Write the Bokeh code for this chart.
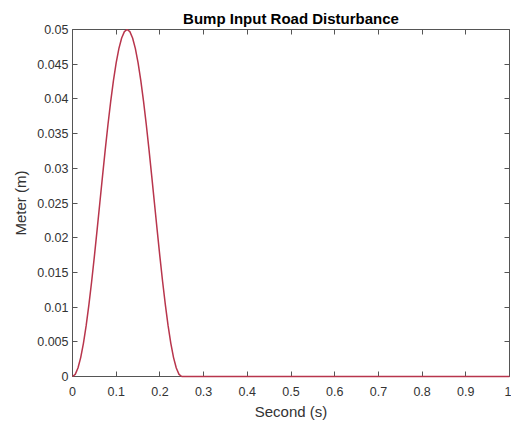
from bokeh.plotting import figure
from bokeh.models import LinearAxis, FixedTicker, ColumnDataSource, Range1d
from bokeh.embed import file_html
from bokeh.resources import INLINE

# ---- data ----
time_s = [0.0, 0.00625, 0.0125, 0.01875, 0.025, 0.03125, 0.0375, 0.04375, 0.05, 0.05625,
          0.0625, 0.06875, 0.075, 0.08125, 0.0875, 0.09375, 0.1, 0.10625, 0.1125, 0.11875,
          0.125, 0.13125, 0.1375, 0.14375, 0.15, 0.15625, 0.1625, 0.16875, 0.175, 0.18125,
          0.1875, 0.19375, 0.2, 0.20625, 0.2125, 0.21875, 0.225, 0.23125, 0.2375, 0.24375,
          0.25, 1.0]
disp_m = [0.0, 0.00031, 0.00122, 0.00272, 0.00478, 0.00732, 0.01031, 0.01365, 0.01727, 0.02109,
          0.025, 0.02891, 0.03273, 0.03635, 0.03969, 0.04268, 0.04523, 0.04728, 0.04878, 0.04969,
          0.05, 0.04969, 0.04878, 0.04728, 0.04523, 0.04268, 0.03969, 0.03635, 0.03273, 0.02891,
          0.025, 0.02109, 0.01727, 0.01365, 0.01031, 0.00732, 0.00478, 0.00272, 0.00122, 0.00031,
          0.0, 0.0]

x_ticks = [0.0, 0.1, 0.2, 0.3, 0.4, 0.5, 0.6, 0.7, 0.8, 0.9, 1.0]
x_tick_labels = ["0", "0.1", "0.2", "0.3", "0.4", "0.5", "0.6", "0.7", "0.8", "0.9", "1"]
y_ticks = [0.0, 0.005, 0.01, 0.015, 0.02, 0.025, 0.03, 0.035, 0.04, 0.045, 0.05]
y_tick_labels = ["0", "0.005", "0.01", "0.015", "0.02", "0.025", "0.03", "0.035", "0.04", "0.045", "0.05"]

title_text = "Bump Input Road Disturbance"
x_label = "Second (s)"
y_label = "Meter (m)"

FONT = "Liberation Sans"
AXIS_COLOR = "#555555"
TEXT_COLOR = "#333333"
LINE_COLOR = "#b8354c"

p = figure(width=511, height=423, output_backend="svg", toolbar_location=None,
           x_range=Range1d(0, 1), y_range=Range1d(0, 0.05),
           min_border_left=72, min_border_right=2, min_border_top=29, min_border_bottom=47,
           title=title_text)
p.background_fill_color = "white"
p.border_fill_color = "white"
p.outline_line_color = None
p.xgrid.visible = False
p.ygrid.visible = False

p.title.align = "center"
p.title.text_font = FONT
p.title.text_font_size = "15px"
p.title.text_font_style = "bold"
p.title.text_color = "#000000"
p.title.standoff = 6

src = ColumnDataSource(data=dict(t=time_s, d=disp_m))


def style_axis(ax, ticks, labels, show_labels):
    ax.ticker = FixedTicker(ticks=ticks)
    ax.minor_tick_line_color = None
    ax.major_tick_in = 5
    ax.major_tick_out = 0
    ax.major_tick_line_color = AXIS_COLOR
    ax.axis_line_color = AXIS_COLOR
    ax.axis_line_width = 1
    if show_labels:
        ax.major_label_overrides = dict(zip(ticks, labels))
        ax.major_label_text_font = FONT
        ax.major_label_text_font_size = "12.5px"
        ax.major_label_text_color = TEXT_COLOR
        ax.axis_label_text_font = FONT
        ax.axis_label_text_font_size = "15px"
        ax.axis_label_text_font_style = "normal"
        ax.axis_label_text_color = TEXT_COLOR
    else:
        ax.major_label_text_color = None
        ax.major_label_text_font_size = "1px"
        ax.major_label_standoff = 0


xb = p.xaxis[0]
style_axis(xb, x_ticks, x_tick_labels, True)
xb.axis_label = x_label
xb.major_label_standoff = 10
xb.axis_label_standoff = 4

yl = p.yaxis[0]
style_axis(yl, y_ticks, y_tick_labels, True)
yl.axis_label = y_label
yl.major_label_standoff = 4
yl.axis_label_standoff = 5

xt = LinearAxis()
style_axis(xt, x_ticks, x_tick_labels, False)
p.add_layout(xt, "above")

yr = LinearAxis()
style_axis(yr, y_ticks, y_tick_labels, False)
p.add_layout(yr, "right")

r = p.line("t", "d", source=src, line_color=LINE_COLOR, line_width=1.5)
r.level = "overlay"

open("out.html", "w").write(file_html(p, INLINE))
